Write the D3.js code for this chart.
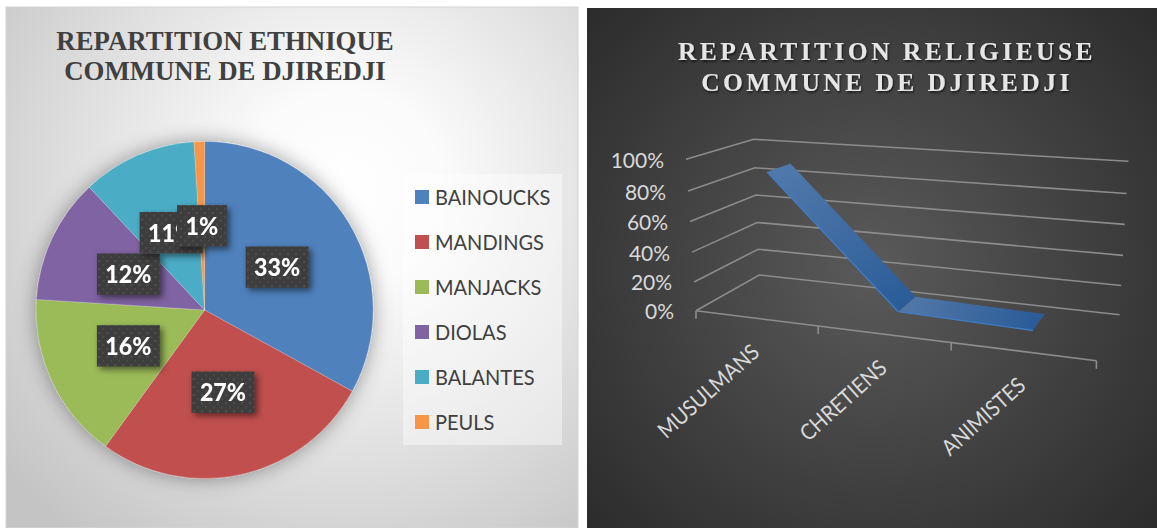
<!DOCTYPE html>
<html>
<head>
<meta charset="utf-8">
<script src="https://cdn.jsdelivr.net/npm/d3@7"></script>
<style>
html, body { margin: 0; padding: 0; background: #fff; }
svg { display: block; }
</style>
</head>
<body>
<svg id="chart" width="1157" height="528"></svg>
<script>
// Ethnic breakdown (percent)
const ethnicGroups = ["BAINOUCKS", "MANDINGS", "MANJACKS", "DIOLAS", "BALANTES", "PEULS"];
const ethnicShares = [33, 27, 16, 12, 11, 1];
const ethnicColors = ["#4f81bd", "#c0504d", "#9bbb59", "#8064a2", "#4bacc6", "#f79646"];

// Religious breakdown (percent)
const religions = ["MUSULMANS", "CHRETIENS", "ANIMISTES"];
const religionShares = [90, 6, 4];
const percentTicks = [0, 20, 40, 60, 80, 100];

const svg = d3.select("#chart");
const defs = svg.append("defs");
const bodyFont = "Lato, 'Open Sans', sans-serif";
const titleFont = "'Liberation Serif', serif";

// Panel backgrounds
const lightBg = defs.append("radialGradient").attr("id", "lightBg")
  .attr("gradientUnits", "userSpaceOnUse")
  .attr("cx", 345).attr("cy", 190).attr("r", 440);
lightBg.append("stop").attr("offset", 0).attr("stop-color", "#ffffff");
lightBg.append("stop").attr("offset", 0.22).attr("stop-color", "#fbfbfb");
lightBg.append("stop").attr("offset", 1).attr("stop-color", "#c4c4c4");

const darkBg = defs.append("radialGradient").attr("id", "darkBg")
  .attr("gradientUnits", "userSpaceOnUse")
  .attr("cx", 872).attr("cy", 268).attr("r", 390);
darkBg.append("stop").attr("offset", 0).attr("stop-color", "#5a5a5a");
darkBg.append("stop").attr("offset", 1).attr("stop-color", "#2b2b2b");

// Filters for the pie, its data labels and the dark title
const pieShadow = defs.append("filter").attr("id", "pieShadow")
  .attr("x", "-15%").attr("y", "-15%").attr("width", "130%").attr("height", "130%");
pieShadow.append("feDropShadow").attr("dx", 0).attr("dy", 0)
  .attr("stdDeviation", 10).attr("flood-color", "#000").attr("flood-opacity", 0.38);

const labelShadow = defs.append("filter").attr("id", "labelShadow")
  .attr("x", "-20%").attr("y", "-20%").attr("width", "150%").attr("height", "150%");
labelShadow.append("feDropShadow").attr("dx", 3).attr("dy", 3)
  .attr("stdDeviation", 3).attr("flood-color", "#000").attr("flood-opacity", 0.5);

const titleShadow = defs.append("filter").attr("id", "titleShadow")
  .attr("x", "-5%").attr("y", "-20%").attr("width", "110%").attr("height", "150%");
titleShadow.append("feDropShadow").attr("dx", 1).attr("dy", 1.5)
  .attr("stdDeviation", 1.2).attr("flood-color", "#000").attr("flood-opacity", 0.7);

const dots = defs.append("pattern").attr("id", "labelDots")
  .attr("patternUnits", "userSpaceOnUse").attr("width", 8).attr("height", 8);
dots.append("rect").attr("width", 8).attr("height", 8).attr("fill", "#3e3e3e");
dots.append("rect").attr("x", 2).attr("y", 2).attr("width", 2).attr("height", 2).attr("fill", "#505050");
dots.append("rect").attr("x", 6).attr("y", 6).attr("width", 2).attr("height", 2).attr("fill", "#484848");

// ---- Left panel: ethnic pie ----
svg.append("rect").attr("x", 6).attr("y", 7).attr("width", 572).attr("height", 521)
  .attr("fill", "url(#lightBg)").attr("stroke", "#d4d4d4");

svg.append("g").selectAll("text")
  .data(["REPARTITION ETHNIQUE", "COMMUNE DE DJIREDJI"]).join("text")
  .attr("x", 225).attr("y", (d, i) => 49.5 + i * 30)
  .attr("text-anchor", "middle")
  .attr("font-family", titleFont).attr("font-weight", 700).attr("font-size", 26.8)
  .attr("fill", "#404040").text(d => d);

const radius = 168.5;
const pieG = svg.append("g").attr("transform", "translate(204.6,310)");
const slices = d3.pie().sort(null)(ethnicShares);
const arc = d3.arc().innerRadius(0).outerRadius(radius);

pieG.append("g").attr("filter", "url(#pieShadow)")
  .selectAll("path").data(slices).join("path")
  .attr("d", arc)
  .attr("fill", (d, i) => ethnicColors[i])
  .attr("stroke", "#ffffff").attr("stroke-opacity", 0.35).attr("stroke-width", 0.6);

const labels = pieG.append("g").selectAll("g").data(slices).join("g")
  .attr("transform", d => `translate(${arc.centroid(d)})`)
  .attr("filter", "url(#labelShadow)");
labels.append("rect")
  .attr("x", d => d.value < 10 ? -25 : -31.5).attr("y", -20.7)
  .attr("width", d => d.value < 10 ? 50 : 63).attr("height", 41.4)
  .attr("fill", "url(#labelDots)");
labels.append("text")
  .attr("text-anchor", "middle")
  .attr("transform", "translate(0,9) scale(0.93,1)")
  .attr("font-family", bodyFont).attr("font-weight", 900).attr("font-size", 25)
  .attr("fill", "#ffffff").text(d => d.value + "%");

// Legend
svg.append("rect").attr("x", 403).attr("y", 174).attr("width", 159).attr("height", 271)
  .attr("fill", "#ffffff").attr("fill-opacity", 0.42);
const legendY = d3.scalePoint().domain(ethnicGroups).range([197, 422]);
const legendRows = svg.append("g").selectAll("g").data(ethnicGroups).join("g")
  .attr("transform", d => `translate(415,${legendY(d)})`);
legendRows.append("rect").attr("y", -7).attr("width", 14).attr("height", 14)
  .attr("fill", (d, i) => ethnicColors[i]);
legendRows.append("text")
  .attr("transform", "translate(20,7.5) scale(0.91,1)")
  .attr("font-family", bodyFont).attr("font-size", 22).attr("fill", "#404040").text(d => d);

// ---- Right panel: religion ribbon in perspective ----
svg.append("rect").attr("x", 587).attr("y", 8).attr("width", 570).attr("height", 520)
  .attr("fill", "url(#darkBg)");

svg.append("g").attr("filter", "url(#titleShadow)").selectAll("text")
  .data(["REPARTITION RELIGIEUSE", "COMMUNE DE DJIREDJI"]).join("text")
  .attr("x", 887).attr("y", (d, i) => 59.5 + i * 31.5)
  .attr("text-anchor", "middle")
  .attr("font-family", titleFont).attr("font-weight", 700).attr("font-size", 25.5)
  .attr("letter-spacing", 3.45)
  .attr("fill", "#e6e6e6").text(d => d);

// Maps the unit square onto a four-cornered plane seen in perspective
function quadMap([p0, p1, p2, p3]) {
  const sx = p0[0] - p1[0] + p2[0] - p3[0], sy = p0[1] - p1[1] + p2[1] - p3[1];
  const dx1 = p1[0] - p2[0], dx2 = p3[0] - p2[0], dy1 = p1[1] - p2[1], dy2 = p3[1] - p2[1];
  const den = dx1 * dy2 - dx2 * dy1;
  const g = (sx * dy2 - dx2 * sy) / den, h = (dx1 * sy - sx * dy1) / den;
  const a = p1[0] - p0[0] + g * p1[0], b = p3[0] - p0[0] + h * p3[0];
  const d = p1[1] - p0[1] + g * p1[1], e = p3[1] - p0[1] + h * p3[1];
  return (u, v) => {
    const w = g * u + h * v + 1;
    return [(a * u + b * v + p0[0]) / w, (d * u + e * v + p0[1]) / w];
  };
}

// Floor and ceiling planes of the plot box: front-left, front-right, back-right, back-left
const floorPlane = quadMap([[696, 310.7], [1096.4, 360.7], [1119.6, 314.7], [759.2, 275]]);
const ceilingPlane = quadMap([[686, 159.3], [1111, 190], [1128.4, 161.3], [753.7, 139.3]]);

const categoryX = d3.scaleBand().domain(religions).range([0, 1]);
// Vertical position between the two planes; the perspective stretches the upper bands slightly
const heightScale = d3.scaleLinear().domain(percentTicks).range([0, 0.19, 0.387, 0.589, 0.79, 1]);
const ribbonDepth = { front: 0.31, back: 0.69 };

function project(u, depth, value) {
  const a = floorPlane(u, depth), b = ceilingPlane(u, depth), t = heightScale(value);
  return [a[0] + (b[0] - a[0]) * t, a[1] + (b[1] - a[1]) * t];
}
const catCenter = c => categoryX(c) + categoryX.bandwidth() / 2;

const plot = svg.append("g");
const gridColor = "#8c8c8c", gridWidth = 1.6;
const line = d3.line();
const closedShape = d3.line().curve(d3.curveLinearClosed);

// Gridlines: side wall then back wall at each tick
plot.append("g").selectAll("path").data(percentTicks).join("path")
  .attr("d", v => line([project(0, 0, v), project(0, 1, v), project(1, 1, v)]))
  .attr("fill", "none").attr("stroke", gridColor).attr("stroke-width", gridWidth);

// Category axis along the front of the floor, with ticks at the band edges
plot.append("path")
  .attr("d", line([project(0, 0, 0), project(1, 0, 0)]))
  .attr("fill", "none").attr("stroke", gridColor).attr("stroke-width", gridWidth);
plot.append("g").selectAll("path")
  .data([...religions.map(c => categoryX(c)), 1]).join("path")
  .attr("d", u => { const p = project(u, 0, 0); return line([p, [p[0], p[1] + 8]]); })
  .attr("stroke", gridColor).attr("stroke-width", gridWidth);

// Ribbon: one shaded face per segment between neighbouring categories
const segments = d3.pairs(religions.map((c, i) => ({ u: catCenter(c), v: religionShares[i] })));
segments.forEach(([a, b], i) => {
  const q = [
    project(a.u, ribbonDepth.front, a.v), project(b.u, ribbonDepth.front, b.v),
    project(b.u, ribbonDepth.back, b.v), project(a.u, ribbonDepth.back, a.v)
  ];
  const grad = defs.append("linearGradient").attr("id", "face" + i)
    .attr("gradientUnits", "userSpaceOnUse")
    .attr("x1", q[3][0]).attr("y1", q[3][1]).attr("x2", q[1][0]).attr("y2", q[1][1]);
  grad.append("stop").attr("offset", 0).attr("stop-color", i ? "#4f76a6" : "#5079ab");
  grad.append("stop").attr("offset", 1).attr("stop-color", "#2b5c98");
  plot.append("path").attr("d", closedShape(q)).attr("fill", `url(#face${i})`);
  plot.append("path").attr("d", line([q[0], q[1]]))
    .attr("stroke", "#3f7cc4").attr("stroke-width", 1.4).attr("fill", "none");
});

// Percent labels beside the side wall
plot.append("g").selectAll("text").data(percentTicks).join("text")
  .attr("x", v => project(0, 0, v)[0] - 22)
  .attr("y", v => project(0, 0, v)[1] + 8.5)
  .attr("text-anchor", "end")
  .attr("font-family", bodyFont).attr("font-size", 21).attr("fill", "#d9d9d9")
  .text(v => v + "%");

// Slanted category labels under the axis
plot.append("g").selectAll("text").data(religions).join("text")
  .attr("transform", c => {
    const p = project(catCenter(c), 0, 0);
    return `translate(${p[0] + 5},${p[1] + 36}) rotate(-42) scale(0.91,1)`;
  })
  .attr("text-anchor", "end")
  .attr("font-family", bodyFont).attr("font-size", 22).attr("fill", "#d9d9d9")
  .text(c => c);
</script>
</body>
</html>
